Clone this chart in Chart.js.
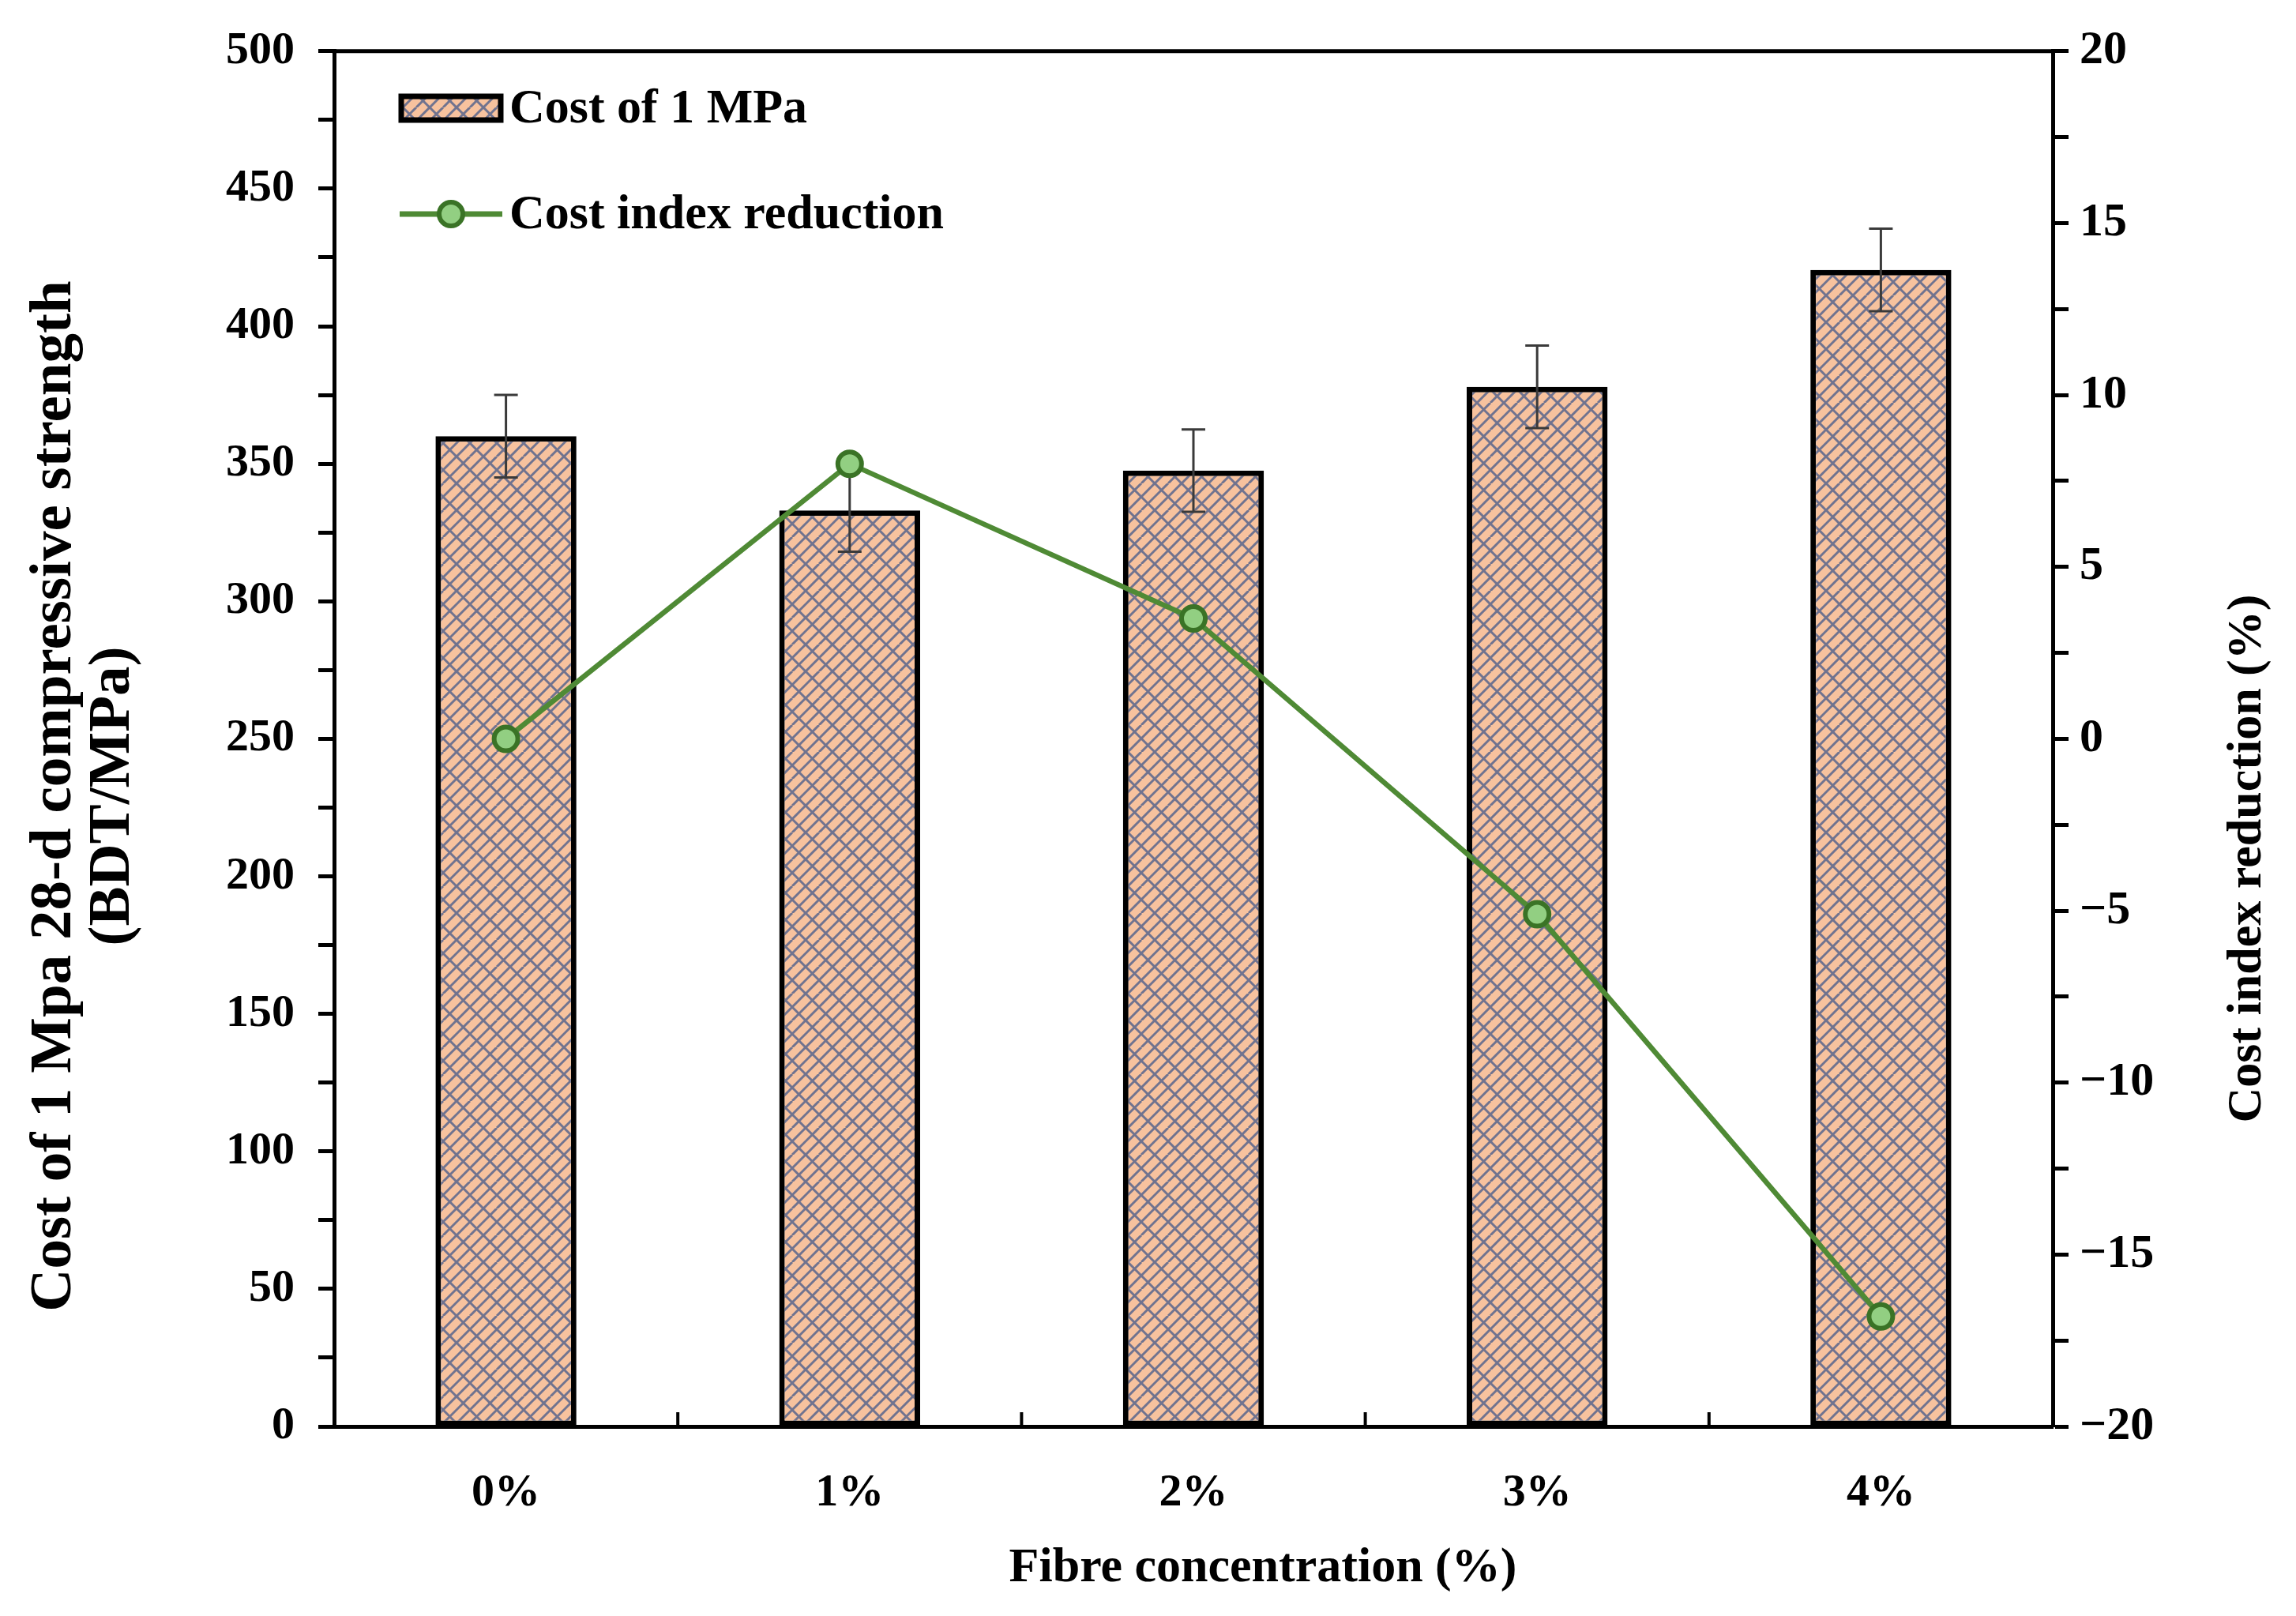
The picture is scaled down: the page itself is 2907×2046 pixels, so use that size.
<!DOCTYPE html>
<html>
<head>
<meta charset="utf-8">
<script src="https://cdn.jsdelivr.net/npm/chart.js@4.4.1/dist/chart.umd.min.js"></script>
<style>
  html, body { margin: 0; padding: 0; background: #ffffff; }
  #wrap { width: 2907px; height: 2046px; }
</style>
</head>
<body>
<div id="wrap"><canvas id="costChart" width="2907" height="2046"></canvas></div>
<script>
// values
const categories = ['0%', '1%', '2%', '3%', '4%'];
const costPerMPa = [360, 333, 347.5, 378, 420.5];
const costError = [15, 15, 15, 15, 15];
const costIndexReduction = [0, 8, 3.5, -5.1, -16.8];

const leftAxisRange = [0, 500];
const rightAxisRange = [-20, 20];

const SERIF = '"Liberation Serif", "Times New Roman", serif';

const canvas = document.getElementById('costChart');
const ctx = canvas.getContext('2d');

// peach fill with a blue-grey diagonal weave, like the original hatch
function makeHatch() {
    const s = 34;
    const c = document.createElement('canvas');
    c.width = s;
    c.height = s;
    const g = c.getContext('2d');
    g.fillStyle = '#F7C29E';
    g.fillRect(0, 0, s, s);
    g.strokeStyle = '#70738F';
    g.lineWidth = 3;
    g.beginPath();
    for (const o of [-s, -s / 2, 0, s / 2, s]) {
        g.moveTo(o, s);
        g.lineTo(o + s, 0);
    }
    for (const o of [-s, 0, s]) {
        g.moveTo(o, 0);
        g.lineTo(o + s, s);
    }
    g.stroke();
    return ctx.createPattern(c, 'repeat');
}
const hatch = makeHatch();

function signed(v) {
    return v < 0 ? '\u2212' + Math.abs(v) : String(v);
}

// error bars on top of the bars, under the line
const errorBars = {
    id: 'errorBars',
    afterDatasetDraw(chart, args) {
        if (args.index !== 0) return;
        const c = chart.ctx;
        const y = chart.scales.y;
        const meta = chart.getDatasetMeta(0);
        c.save();
        c.strokeStyle = '#3a3a3a';
        c.lineWidth = 3;
        meta.data.forEach((bar, i) => {
            const hi = y.getPixelForValue(costPerMPa[i] + costError[i]);
            const lo = y.getPixelForValue(costPerMPa[i] - costError[i]);
            c.beginPath();
            c.moveTo(bar.x, hi);
            c.lineTo(bar.x, lo);
            c.moveTo(bar.x - 15, hi);
            c.lineTo(bar.x + 15, hi);
            c.moveTo(bar.x - 15, lo);
            c.lineTo(bar.x + 15, lo);
            c.stroke();
        });
        c.restore();
    }
};

// frame top, inward x ticks, legend and axis titles
const decorations = {
    id: 'decorations',
    afterDraw(chart) {
        const c = chart.ctx;
        const area = chart.chartArea;
        const x = chart.scales.x;
        c.save();

        c.strokeStyle = '#000';
        c.lineWidth = 5;
        c.beginPath();
        c.moveTo(area.left - 2.5, area.top);
        c.lineTo(area.right + 2.5, area.top);
        c.stroke();

        c.lineWidth = 4;
        c.beginPath();
        for (let i = 0; i < categories.length - 1; i++) {
            const px = (x.getPixelForValue(i) + x.getPixelForValue(i + 1)) / 2;
            c.moveTo(px, area.bottom);
            c.lineTo(px, area.bottom - 18);
        }
        c.stroke();

        // legend
        const ds = chart.data.datasets;
        c.font = 'bold 62px ' + SERIF;
        c.fillStyle = '#000';
        c.textBaseline = 'middle';
        c.textAlign = 'left';

        c.fillStyle = ds[0].backgroundColor;
        c.fillRect(508, 122, 126, 30);
        c.strokeStyle = '#000';
        c.lineWidth = 7;
        c.strokeRect(508, 122, 126, 30);
        c.fillStyle = '#000';
        c.fillText(ds[0].label, 645, 139);

        c.strokeStyle = ds[1].borderColor;
        c.lineWidth = 7;
        c.beginPath();
        c.moveTo(506, 271);
        c.lineTo(636, 271);
        c.stroke();
        c.beginPath();
        c.arc(571, 271, 15, 0, Math.PI * 2);
        c.fillStyle = ds[1].pointBackgroundColor;
        c.fill();
        c.lineWidth = 6;
        c.strokeStyle = ds[1].pointBorderColor;
        c.stroke();
        c.fillStyle = '#000';
        c.fillText(ds[1].label, 645, 273);

        // axis titles
        c.textAlign = 'center';
        c.font = 'bold 62px ' + SERIF;
        c.fillText('Fibre concentration (%)', 1599, 1986);

        c.save();
        c.translate(2846, 1087);
        c.rotate(-Math.PI / 2);
        c.fillText('Cost index reduction (%)', 0, 0);
        c.restore();

        c.save();
        c.font = 'bold 75px ' + SERIF;
        c.translate(70, 1008);
        c.rotate(-Math.PI / 2);
        c.fillText('Cost of 1 Mpa 28-d compressive strength', 0, 0);
        c.fillText('(BDT/MPa)', 0, 74);
        c.restore();

        c.restore();
    }
};

new Chart(ctx, {
    data: {
        labels: categories,
        datasets: [
            {
                type: 'bar',
                label: 'Cost of 1 MPa',
                data: costPerMPa,
                yAxisID: 'y',
                backgroundColor: hatch,
                borderColor: '#000',
                borderWidth: 7,
                borderSkipped: false,
                barPercentage: 0.41,
                categoryPercentage: 1,
                order: 1
            },
            {
                type: 'line',
                label: 'Cost index reduction',
                data: costIndexReduction,
                yAxisID: 'y1',
                borderColor: '#4F8A35',
                borderWidth: 6.5,
                tension: 0,
                pointRadius: 15,
                pointBorderWidth: 6,
                pointBackgroundColor: '#92CF82',
                pointBorderColor: '#3A7326',
                order: 0
            }
        ]
    },
    options: {
        responsive: false,
        animation: false,
        devicePixelRatio: 1,
        layout: { padding: { top: 61, left: 0, right: 0, bottom: 0 } },
        plugins: {
            legend: { display: false },
            tooltip: { enabled: false }
        },
        scales: {
            x: {
                offset: true,
                afterFit(scale) { scale.height = 240; },
                grid: { display: false },
                border: { display: true, color: '#000', width: 5 },
                ticks: {
                    color: '#000',
                    padding: 42,
                    font: { family: SERIF, size: 58, weight: 'bold' }
                }
            },
            y: {
                position: 'left',
                min: leftAxisRange[0],
                max: leftAxisRange[1],
                afterFit(scale) { scale.width = 423; },
                grid: {
                    drawOnChartArea: false,
                    drawTicks: true,
                    tickLength: 20,
                    tickWidth: 5,
                    tickColor: '#000'
                },
                border: { display: true, color: '#000', width: 5 },
                ticks: {
                    stepSize: 25,
                    color: '#000',
                    padding: 30,
                    font: { family: SERIF, size: 58, weight: 'bold' },
                    callback: v => (v % 50 === 0 ? String(v) : '')
                }
            },
            y1: {
                position: 'right',
                min: rightAxisRange[0],
                max: rightAxisRange[1],
                afterFit(scale) { scale.width = 308; },
                grid: {
                    drawOnChartArea: false,
                    drawTicks: true,
                    tickLength: 20,
                    tickWidth: 5,
                    tickColor: '#000'
                },
                border: { display: true, color: '#000', width: 5 },
                ticks: {
                    stepSize: 2.5,
                    color: '#000',
                    padding: 14,
                    font: { family: SERIF, size: 60, weight: 'bold' },
                    callback: v => (v % 5 === 0 ? signed(v) : '')
                }
            }
        }
    },
    plugins: [errorBars, decorations]
});
</script>
</body>
</html>
